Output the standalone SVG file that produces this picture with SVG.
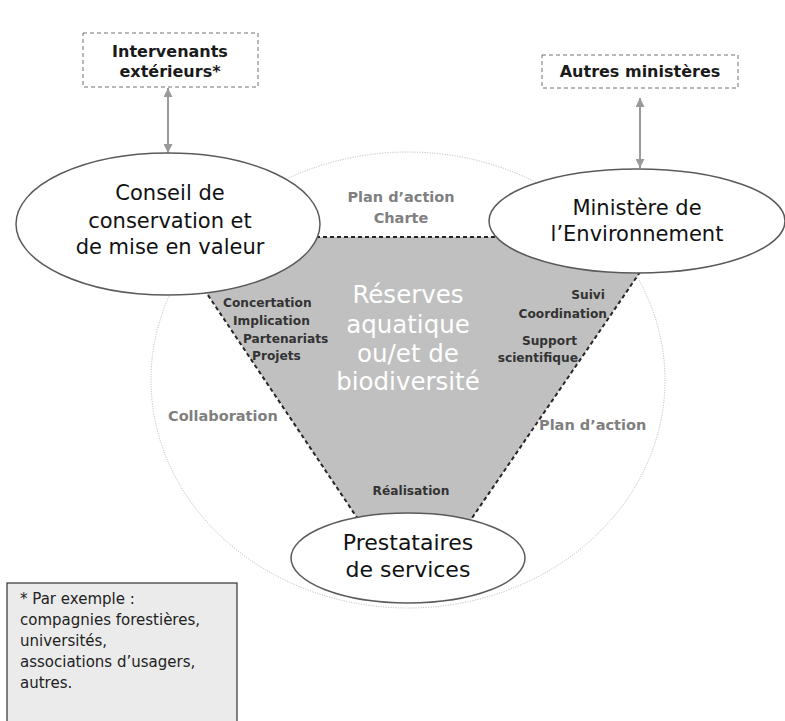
<svg xmlns="http://www.w3.org/2000/svg" width="785" height="721" viewBox="0 0 785 721">
<style>
  text { font-family: "DejaVu Sans", "Liberation Sans", sans-serif; }
  .node { fill: #ffffff; stroke: #5a5a5a; stroke-width: 1.5; }
  .ext { fill: #ffffff; stroke: #707070; stroke-width: 1; stroke-dasharray: 4 3; }
  .big { font-size: 21px; fill: #111111; text-anchor: middle; }
  .extt { font-size: 16px; font-weight: bold; fill: #1a1a1a; text-anchor: middle; }
  .lbl { font-size: 12.2px; font-weight: bold; fill: #333333; }
  .grey { font-size: 14.5px; font-weight: bold; fill: #808080; }
  .res { font-size: 24.5px; fill: #ffffff; text-anchor: middle; }
  .edge { fill: none; stroke: #262626; stroke-width: 2; stroke-dasharray: 4 3; }
  .arrow { stroke: #9a9a9a; stroke-width: 2; fill: none; marker-start: url(#ah); marker-end: url(#ah); }
  .note { font-size: 15px; fill: #222222; }
</style>
<defs>
  <marker id="ah" markerUnits="userSpaceOnUse" markerWidth="9" markerHeight="9" refX="9" refY="4.5" orient="auto-start-reverse">
    <path d="M0,0 L9,4.5 L0,9 z" fill="#9a9a9a"/>
  </marker>
</defs>

<g id="scope-circle">
  <ellipse cx="408" cy="380" rx="257" ry="228" fill="none" stroke="#b4b4b4" stroke-width="1" stroke-dasharray="1 1.5"/>
</g>

<g id="reserves">
  <polygon points="169,237 664,237 457,540 372,540" fill="#c0c0c0"/>
</g>

<g id="connectors">
  <line class="edge" x1="169" y1="237" x2="664" y2="237"/>
  <line class="edge" x1="169" y1="237" x2="372" y2="540"/>
  <line class="edge" x1="664" y1="237" x2="457" y2="540"/>
  <line class="arrow" x1="168" y1="88" x2="168" y2="153"/>
  <line class="arrow" x1="640" y1="98" x2="640" y2="168"/>
</g>

<g id="intervenants">
  <rect class="ext" x="83" y="33" width="175" height="54"/>
  <text class="extt" x="170" y="57">Intervenants</text>
  <text class="extt" x="170" y="77">extérieurs*</text>
</g>

<g id="autres-ministeres">
  <rect class="ext" x="542" y="55" width="196" height="33"/>
  <text class="extt" x="640" y="77">Autres ministères</text>
</g>

<g id="conseil">
  <ellipse class="node" cx="168" cy="224" rx="152" ry="71"/>
  <text class="big" x="170" y="200">Conseil de</text>
  <text class="big" x="170" y="228">conservation et</text>
  <text class="big" x="170" y="254">de mise en valeur</text>
</g>

<g id="ministere">
  <ellipse class="node" cx="637" cy="221" rx="148" ry="52"/>
  <text class="big" x="637" y="215">Ministère de</text>
  <text class="big" x="637" y="241">l’Environnement</text>
</g>

<g id="prestataires">
  <ellipse class="node" cx="408" cy="558" rx="117" ry="45"/>
  <text class="big" x="408" y="550" style="font-size:22px">Prestataires</text>
  <text class="big" x="408" y="577" style="font-size:22px">de services</text>
</g>

<g id="reserves-labels">
  <text class="res" x="408" y="303">Réserves</text>
  <text class="res" x="408" y="333">aquatique</text>
  <text class="res" x="408" y="362">ou/et de</text>
  <text class="res" x="408" y="390">biodiversité</text>
</g>

<g id="edge-labels">
  <text class="grey" x="401" y="202" text-anchor="middle">Plan d’action</text>
  <text class="grey" x="401" y="223" text-anchor="middle">Charte</text>
  <text class="lbl" x="223" y="307">Concertation</text>
  <text class="lbl" x="233" y="325">Implication</text>
  <text class="lbl" x="243" y="343">Partenariats</text>
  <text class="lbl" x="252" y="360">Projets</text>
  <text class="lbl" x="605" y="299" text-anchor="end">Suivi</text>
  <text class="lbl" x="607" y="318" text-anchor="end">Coordination</text>
  <text class="lbl" x="577" y="345" text-anchor="end">Support</text>
  <text class="lbl" x="578" y="362" text-anchor="end">scientifique</text>
  <text class="grey" x="168" y="421">Collaboration</text>
  <text class="grey" x="539" y="430">Plan d’action</text>
  <text class="lbl" x="411" y="495" text-anchor="middle">Réalisation</text>
</g>

<g id="footnote">
  <rect x="7" y="583" width="230" height="150" fill="#ebebeb" stroke="#333333" stroke-width="1.2"/>
  <text class="note" x="20" y="604">* Par exemple :</text>
  <text class="note" x="20" y="625">compagnies forestières,</text>
  <text class="note" x="20" y="646">universités,</text>
  <text class="note" x="20" y="667">associations d’usagers,</text>
  <text class="note" x="20" y="688">autres.</text>
</g>
</svg>
